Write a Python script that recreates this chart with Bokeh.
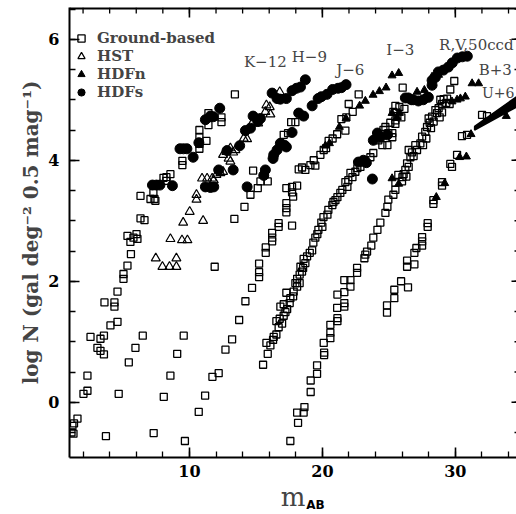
from bokeh.plotting import figure
from bokeh.models import (Range1d, Legend, LegendItem, Label, FixedTicker, ColumnDataSource,
                          LinearAxis, CustomJSTickFormatter)
from bokeh.embed import file_html
from bokeh.resources import INLINE

# ---------------- data: (m_AB, log N) ----------------
K_GROUND = [(1.13,-0.50),(1.28,-0.52),(1.20,-0.39),(1.32,-0.35),(1.58,-0.27),
    (2.03,0.14),(2.33,0.19),(2.33,0.44),(2.56,1.08),(3.08,0.90),(3.31,0.85),(3.57,0.79),(3.31,1.05),(3.57,1.10),
    (4.06,1.27),(4.59,1.33),(3.61,1.65),(4.36,1.65),(4.36,1.58),(4.59,1.83),(5.04,2.04),(5.04,2.12),(5.34,2.26),(5.60,2.45),
    (5.34,2.75),(5.56,2.65),(6.02,2.78),(6.09,2.70),(5.79,2.72),(6.32,3.04),(6.62,3.01),(6.32,3.41),(7.07,3.36),(7.29,3.46),
    (7.37,3.36),(7.44,3.33),(8.05,3.71),(8.27,3.66),(8.27,3.72),(8.57,3.77),(9.47,3.99),(9.47,3.92),
    (10.75,4.50),(10.75,4.38),(10.75,4.27),(10.75,4.19),(11.28,4.32),(11.43,4.78),(11.43,4.58),(12.41,4.71),(12.41,4.63),(13.42,5.09)]
K_HDFS = [(7.22,3.59),(7.52,3.59),(7.78,3.59),(8.72,3.58),(9.29,4.19),(9.55,4.19),(9.81,4.19),(10.28,4.05),
    (10.71,4.29),(11.20,4.67),(11.58,4.73),(11.80,4.72),(12.28,4.86)]

H_GROUND = [(3.72,-0.56),(4.68,0.14),(5.44,0.66),(5.94,0.90),(6.49,1.10)]
H_HST = [(7.47,2.38),(7.97,2.24),(8.50,2.24),(9.02,2.24),(9.02,2.38),(8.57,2.70),(9.44,2.68),(9.85,2.68),(9.53,2.97),
    (10.02,3.15),(10.53,3.43),(10.53,3.35),(11.03,3.00),(10.95,3.70),(11.33,3.70),(11.71,3.70),(11.83,3.67),(12.03,3.76),
    (12.33,3.79),(12.53,3.81),(12.95,4.03),(13.08,3.98),(13.46,4.17),(13.29,4.13),(13.08,4.20),(12.78,4.14),(12.53,4.09),
    (14.08,4.36),(14.34,4.35),(14.71,4.61),(15.17,4.61),(15.79,4.91),(16.04,4.88),(15.71,4.80),(16.09,4.76),(16.79,5.13)]
H_HDFS = [(11.20,3.56),(11.58,3.55),(11.83,3.56),(12.20,3.84),(13.29,3.84),(12.83,4.16),(13.78,4.24),(14.21,4.49),
    (14.59,4.53),(14.79,4.73),(15.14,4.64),(15.34,4.69),(16.22,5.11),(16.59,5.02),(16.84,5.01),(17.29,5.02),(17.72,5.15),
    (18.05,5.19),(18.35,5.21),(18.72,5.33)]

J_GROUND = [(7.31,-0.51),(8.07,0.09),(8.57,0.44),(9.08,0.80),(9.57,1.10),(11.90,2.24),(13.38,3.03),(14.14,3.23),
    (14.59,3.43),(15.14,3.54),(14.79,3.83),(15.34,3.65),(15.89,3.65),(15.64,3.76),(17.09,4.42),(17.42,4.45),(17.65,4.63),(17.97,4.63)]
J_HDFS = [(14.34,3.56),(15.59,3.75),(15.71,3.84),(16.29,4.03),(16.34,4.09),(16.59,4.17),(16.84,4.28),(17.14,4.25),
    (17.29,4.22),(17.72,4.46),(18.22,4.78),(18.59,4.73),(19.23,4.90),(19.68,5.02),(19.92,5.05),(20.35,5.09),(20.77,5.17),
    (21.18,5.19),(21.43,5.20),(21.78,5.25)]

I_GROUND = [(9.66,-0.64),(10.70,-0.16),(11.18,0.11),(11.73,0.42),(12.20,0.48),(12.71,0.87),(13.21,1.04),(13.74,1.36),
    (14.21,1.67),(14.71,1.89),(15.24,2.07),(15.24,2.15),(15.24,2.29),(15.74,2.47),(15.74,2.56),(16.22,2.80),(16.22,2.72),
    (16.22,2.66),(16.71,2.96),(16.71,2.90),(17.72,2.92),(17.29,3.29),(17.29,3.21),(17.29,3.14),(17.29,3.54),(17.72,3.56),
    (18.10,3.58),(17.72,3.47),(17.80,3.40),(18.22,3.85),(18.47,3.88),(18.72,3.84),(19.10,3.92),(19.47,3.91),(19.35,4.00),
    (19.85,4.09),(20.10,4.17),(20.28,4.20),(20.47,4.32),(20.77,4.36),(21.11,4.43),(21.73,4.49),(21.43,4.68),(21.80,4.71),
    (21.98,4.93),(22.28,4.80),(22.73,5.09),(26.04,5.20)]
I_HDFN = [(20.23,4.24),(20.53,4.28),(21.28,4.55),(21.78,4.69),(22.80,4.90),(23.23,4.98),(23.81,5.08),(24.29,5.14),
    (24.79,5.20),(25.24,5.40),(25.74,5.44)]

R_GROUND = [(15.54,0.62),(15.89,0.80),(15.79,0.98),(16.09,0.94),(16.29,1.03),(16.34,1.08),(16.54,1.12),(16.71,1.24),
    (16.97,1.30),(16.54,1.34),(16.79,1.38),(17.09,1.43),(17.22,1.49),(17.35,1.54),(16.84,1.58),(17.09,1.62),(17.54,1.64),
    (17.59,1.72),(17.29,1.81),(17.84,1.83),(17.80,1.75),(18.10,1.91),(18.29,1.97),(17.97,1.97),(18.10,2.04),(18.29,2.11),
    (18.47,2.16),(18.55,2.22),(18.35,2.24),(18.72,2.30),(18.59,2.37),(18.85,2.41),(19.05,2.47),(19.23,2.51),(19.32,2.64),
    (19.47,2.72),(19.62,2.78),(19.70,2.85),(20.00,2.90),(19.92,2.97),(20.08,3.06),(20.38,3.10),(20.45,3.18),(20.75,3.26),
    (20.83,3.31),(20.98,3.34),(21.13,3.39),(21.35,3.46),(21.50,3.51),(21.88,3.56),(21.73,3.64),(21.95,3.67),(22.26,3.72),
    (22.11,3.79),(22.48,3.81),(22.63,3.87),(22.86,3.89),(23.08,3.96),(23.23,4.00),(23.61,4.05),(23.83,4.12),(24.21,4.33),
    (24.51,4.25),(24.89,4.25),(24.59,4.50),(24.96,4.45),(25.26,4.45),(25.26,4.38),(24.74,4.55),(25.11,4.62),(25.49,4.60),
    (25.49,4.90),(25.79,4.88),(26.17,4.85),(25.34,4.80),(25.64,4.73),(25.94,4.71),(25.49,4.66)]
R_HDFS = [(22.71,3.97),(23.08,4.00),(23.31,3.96),(23.76,3.69),(23.83,4.33),(24.14,4.45),(24.36,4.38),(24.89,4.42),
    (26.24,5.03),(26.47,5.03),(26.69,5.00),(26.84,5.00),(27.22,4.98),(27.59,5.00),(27.97,5.04),(28.25,5.24),(28.25,5.32),
    (28.50,5.37),(28.72,5.46),(29.10,5.49),(29.47,5.54),(29.77,5.61),(30.15,5.69),(30.53,5.71),(30.90,5.72)]
R_HDFN = [(25.24,4.78),(25.79,4.78),(25.62,4.71),(27.12,5.13),(27.67,5.16),(27.82,5.09),(28.25,5.38),(28.74,5.41)]

B_GROUND = [(17.59,-0.64),(18.17,-0.34),(18.10,-0.17),(18.59,-0.17),(18.65,-0.08),(19.12,0.17),(19.12,0.36),(19.60,0.47),
    (19.60,0.61),(20.13,0.78),(20.13,0.82),(20.10,0.98),(20.60,1.06),(20.60,1.15),(20.60,1.28),(21.13,1.34),(21.13,1.39),
    (21.11,1.56),(21.65,1.58),(21.65,1.64),(21.13,1.78),(21.65,1.82),(21.65,2.02),(22.11,2.02),(22.11,1.91),(22.61,2.22),
    (22.61,2.14),(23.16,2.38),(23.23,2.44),(23.36,2.49),(23.68,2.59),(23.83,2.72),(24.14,2.85),(24.36,2.97),(24.74,3.13),
    (24.89,3.23),(24.96,3.35),(25.34,3.43),(25.49,3.51),(25.49,3.63),(25.71,3.76),(26.02,3.72),(25.99,3.65),(26.32,3.73),
    (26.11,3.77),(26.24,3.84),(26.49,3.89),(26.37,3.95),(26.62,4.05),(26.49,4.17),(26.86,4.07),(26.74,4.13),(27.12,4.17),
    (26.99,4.25),(27.57,4.25),(27.37,4.28),(27.82,4.36),(27.50,4.39),(27.74,4.47),(28.17,4.53),(27.87,4.55),(28.37,4.64),
    (28.07,4.62),(28.25,4.72),(27.99,4.69),(28.82,4.71),(29.00,4.79),(28.62,4.78),(28.74,4.86),(28.50,4.83),(29.57,4.93),
    (29.32,4.95),(29.00,4.93),(29.38,5.02),(29.12,5.01),(28.87,5.00),(29.62,5.17),(29.92,5.31)]
B_HDFN = [(25.24,3.70),(25.74,3.61),(29.75,4.97),(30.13,5.00),(30.38,5.02),(30.75,5.05),(31.26,5.27),(31.75,5.27)]

U_GROUND = [(24.86,1.48),(24.86,1.60),(25.41,1.72),(25.41,1.86),(25.92,2.00),(26.44,1.90),(26.37,2.24),(26.37,2.34),
    (26.92,2.28),(26.92,2.47),(27.07,2.55),(27.50,2.73),(27.50,2.66),(27.50,2.59),(27.92,2.96),(27.92,2.90),(28.35,3.34),
    (28.35,3.28),(29.00,3.64),(29.00,3.58),(29.62,3.94),(29.75,3.89),(30.13,4.09),(30.50,4.40),(30.88,4.42),(32.01,4.75),(32.38,4.73)]
U_HDFN = [(29.20,3.62),(28.57,3.39),(30.32,4.05),(30.83,4.06),(31.18,4.43),(33.83,4.73)]
# faint-end HDF U counts drawn as a dense black band
U_BAND_M = [31.45, 34.6, 34.6, 31.45]
U_BAND_LOGN = [4.56, 5.05, 4.88, 4.50]

BAND_LABELS = ["K\u221212", "H\u22129", "J\u22126", "I\u22123", "R,V,50ccd", "B+3", "U+6"]
BAND_LABEL_M = [15.71, 19.02, 22.10, 25.86, 31.58, 33.00, 32.00]
BAND_LABEL_LOGN = [5.62, 5.70, 5.49, 5.82, 5.90, 5.49, 5.12]

SURVEYS = ["Ground-based", "HST", "HDFn", "HDFs"]

X_RANGE = (0.98, 34.6)
Y_RANGE = (-0.913, 6.525)
X_MAJOR = [10, 20, 30]
X_MINOR = list(range(2, 36, 2))
Y_MAJOR = [0, 2, 4, 6]
Y_MINOR = [v * 0.5 for v in range(-2, 14)]


def src(*groups):
    pts = [pt for g in groups for pt in g]
    return ColumnDataSource(dict(m=[a for a, b in pts], logn=[b for a, b in pts]))


ground = src(K_GROUND, H_GROUND, J_GROUND, I_GROUND, R_GROUND, B_GROUND, U_GROUND)
hst = src(H_HST)
hdfn = src(I_HDFN, R_HDFN, B_HDFN, U_HDFN)
hdfs = src(K_HDFS, H_HDFS, J_HDFS, R_HDFS)

W, H = 516, 514
BL, BR, BT, BB = 69, 0, 7, 56
p = figure(width=W, height=H, output_backend="svg", toolbar_location=None,
           x_range=Range1d(*X_RANGE), y_range=Range1d(*Y_RANGE),
           min_border_left=BL, min_border_right=BR, min_border_top=BT, min_border_bottom=BB,
           background_fill_color="white", border_fill_color="white")
p.outline_line_color = None
p.xgrid.grid_line_color = None
p.ygrid.grid_line_color = None

p.patch(U_BAND_M, U_BAND_LOGN, fill_color="black", line_color="black", line_width=1.5)
r_g = p.scatter("m", "logn", source=ground, marker="square", size=7, fill_color=None,
                line_color="black", line_width=1.3)
r_h = p.scatter("m", "logn", source=hst, marker="triangle", size=9, fill_color=None,
                line_color="black", line_width=1.2)
r_n = p.scatter("m", "logn", source=hdfn, marker="triangle", size=8, fill_color="black",
                line_color="black", line_width=1)
r_s = p.scatter("m", "logn", source=hdfs, marker="circle", size=10, fill_color="black",
                line_color="black", line_width=1)

xa = p.xaxis[0]
ya = p.yaxis[0]
for ax in (xa, ya):
    ax.axis_line_width = 2
    ax.major_tick_in = 10
    ax.major_tick_out = 0
    ax.minor_tick_in = 6
    ax.minor_tick_out = 0
    ax.major_tick_line_width = 1.6
    ax.minor_tick_line_width = 1.3
    ax.major_label_text_font = "DejaVu Serif"
    ax.major_label_text_font_style = "bold"
    ax.major_label_text_font_size = "16px"
    ax.major_label_text_color = "black"

xa.ticker = FixedTicker(ticks=X_MAJOR, minor_ticks=X_MINOR)
ya.ticker = FixedTicker(ticks=Y_MAJOR, minor_ticks=Y_MINOR)
xa.major_label_standoff = 7
ya.major_label_standoff = 10

ya.axis_label = "log N (gal deg\u207b\u00b2 0.5 mag\u207b\u00b9)"
ya.axis_label_text_font = "DejaVu Serif"
ya.axis_label_text_font_style = "bold"
ya.axis_label_text_font_size = "20px"
ya.axis_label_standoff = 2
xa.axis_label = "m"
xa.axis_label_text_font = "DejaVu Serif"
xa.axis_label_text_font_style = "normal"
xa.axis_label_text_font_size = "26px"
xa.axis_label_standoff = 2

px_x = (W - BL - BR) / (X_RANGE[1] - X_RANGE[0])
px_y = (H - BT - BB) / (Y_RANGE[1] - Y_RANGE[0])

# subscript "AB" of the x-axis title m_AB: a tick-less axis whose single label is pulled up next to the "m"
ab_pos = round(X_RANGE[0] + (315 - BL) / px_x, 2)
sub = LinearAxis(ticker=FixedTicker(ticks=[ab_pos], minor_ticks=[]),
                 formatter=CustomJSTickFormatter(code="return 'AB'"))
sub.axis_line_color = None
sub.major_tick_line_color = None
sub.minor_tick_line_color = None
sub.major_tick_in = 0
sub.major_tick_out = 0
sub.minor_tick_in = 0
sub.minor_tick_out = 0
sub.major_label_standoff = -17
sub.major_label_text_font = "DejaVu Sans"
sub.major_label_text_font_style = "bold"
sub.major_label_text_font_size = "12px"
sub.major_label_text_color = "black"
p.add_layout(sub, "below")

# top frame line and inward ticks on the top and right edges (frame mirrors the axes)
y_top, x_right = Y_RANGE[1], X_RANGE[1]
p.segment(x0=[X_RANGE[0]], x1=[X_RANGE[1]], y0=[y_top], y1=[y_top], line_color="black", line_width=4)
p.segment(x0=X_MAJOR, x1=X_MAJOR, y0=[y_top] * len(X_MAJOR), y1=[y_top - 10 / px_y] * len(X_MAJOR),
          line_color="black", line_width=1.6)
p.segment(x0=X_MINOR, x1=X_MINOR, y0=[y_top] * len(X_MINOR), y1=[y_top - 6 / px_y] * len(X_MINOR),
          line_color="black", line_width=1.3)
p.segment(x0=[x_right] * len(Y_MAJOR), x1=[x_right - 5 / px_x] * len(Y_MAJOR), y0=Y_MAJOR, y1=Y_MAJOR,
          line_color="black", line_width=1.6)
p.segment(x0=[x_right] * len(Y_MINOR), x1=[x_right - 2 / px_x] * len(Y_MINOR), y0=Y_MINOR, y1=Y_MINOR,
          line_color="black", line_width=1.3)

for t, xm, yl in zip(BAND_LABELS, BAND_LABEL_M, BAND_LABEL_LOGN):
    is_u = t.startswith("U")
    p.add_layout(Label(x=xm, y=yl, text=t, text_align="left" if is_u else "center",
                       text_baseline="middle", text_font="DejaVu Serif",
                       text_font_size="14px" if is_u else "15px"))

legend = Legend(items=[LegendItem(label=SURVEYS[0], renderers=[r_g]),
                       LegendItem(label=SURVEYS[1], renderers=[r_h]),
                       LegendItem(label=SURVEYS[2], renderers=[r_n]),
                       LegendItem(label=SURVEYS[3], renderers=[r_s])],
                location=(3, 356), padding=0, margin=0, spacing=0,
                glyph_width=18, glyph_height=18, label_height=18, label_standoff=7,
                label_text_font="DejaVu Serif", label_text_font_style="bold",
                label_text_font_size="15px", background_fill_alpha=0, border_line_color=None)
p.add_layout(legend)

open("out.html", "w").write(file_html(p, INLINE))
